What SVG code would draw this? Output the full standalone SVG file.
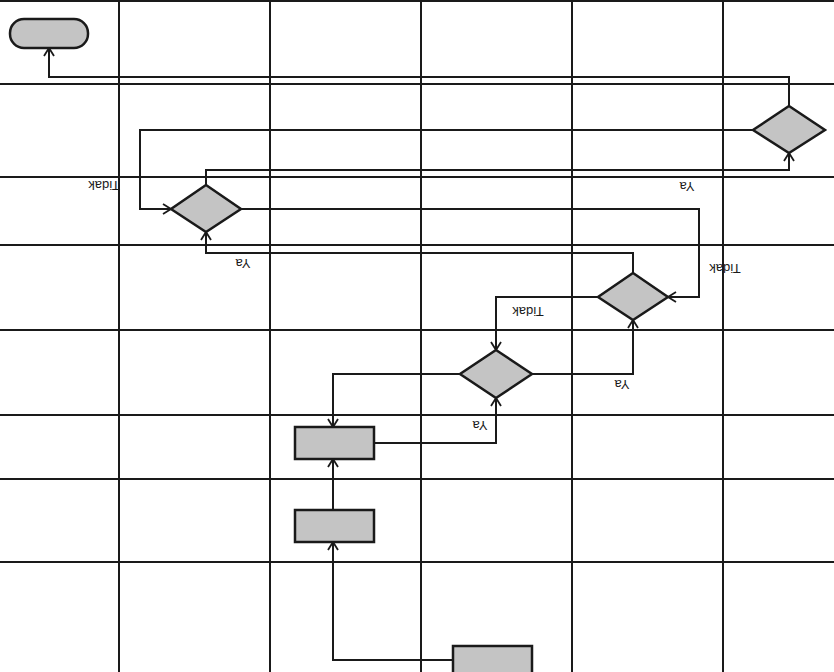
<svg xmlns="http://www.w3.org/2000/svg" width="834" height="672" viewBox="0 0 834 672">
<style>
.grid{stroke:#1a1a1a;stroke-width:2;fill:none}
.shape{fill:#c4c4c4;stroke:#1a1a1a;stroke-width:2.5}
.conn{fill:none;stroke:#1a1a1a;stroke-width:2;marker-end:url(#arr)}
.lbl{font-family:"Liberation Sans",Arial,sans-serif;font-size:13px;fill:#1a1a1a;text-anchor:middle;dominant-baseline:central}
</style>
<defs>
<marker id="arr" markerUnits="userSpaceOnUse" markerWidth="12" markerHeight="12" refX="10" refY="6" orient="auto">
<path d="M2,1 L10,6 L2,11" fill="none" stroke="#1a1a1a" stroke-width="1.8"/>
</marker>
</defs>
<rect width="834" height="672" fill="#fff"/>
<g id="grid" class="grid">
<line x1="0" y1="1" x2="834" y2="1"/>
<line x1="0" y1="84" x2="834" y2="84"/>
<line x1="0" y1="177" x2="834" y2="177"/>
<line x1="0" y1="245" x2="834" y2="245"/>
<line x1="0" y1="330" x2="834" y2="330"/>
<line x1="0" y1="415" x2="834" y2="415"/>
<line x1="0" y1="479" x2="834" y2="479"/>
<line x1="0" y1="562" x2="834" y2="562"/>
<line x1="119" y1="0" x2="119" y2="672"/>
<line x1="270" y1="0" x2="270" y2="672"/>
<line x1="421" y1="0" x2="421" y2="672"/>
<line x1="572" y1="0" x2="572" y2="672"/>
<line x1="723" y1="0" x2="723" y2="672"/>
</g>
<g id="connectors">
<path class="conn" d="M453,660 H333 V542"/>
<path class="conn" d="M333,510 V459"/>
<path class="conn" d="M374,443 H496 V398"/>
<path class="conn" d="M460,374 H333 V427"/>
<path class="conn" d="M532,374 H633 V320"/>
<path class="conn" d="M598,297 H496 V350"/>
<path class="conn" d="M633,273 V253 H206 V232"/>
<path class="conn" d="M241,209 H699 V297 H668"/>
<path class="conn" d="M753,130 H140 V209 H171"/>
<path class="conn" d="M206,185 V170 H789 V153"/>
<path class="conn" d="M789,106 V77 H49 V48"/>
</g>
<g id="end"><rect class="shape" x="10" y="19" width="78" height="29" rx="14"/></g>
<g id="d1"><polygon class="shape" points="789,106 825,130 789,153 753,130"/></g>
<g id="d2"><polygon class="shape" points="206,185 241,209 206,232 171,209"/></g>
<g id="d3"><polygon class="shape" points="633,273 668,297 633,320 598,297"/></g>
<g id="d4"><polygon class="shape" points="496,350 532,374 496,398 460,374"/></g>
<g id="r1"><rect class="shape" x="295" y="427" width="79" height="32"/></g>
<g id="r2"><rect class="shape" x="295" y="510" width="79" height="32"/></g>
<g id="r3"><rect class="shape" x="453" y="646" width="79" height="34"/></g>
<g id="labels">
<text class="lbl" x="480" y="425" transform="rotate(180 480 425)">Ya</text>
<text class="lbl" x="622" y="384" transform="rotate(180 622 384)">Ya</text>
<text class="lbl" x="528" y="311" transform="rotate(180 528 311)">Tidak</text>
<text class="lbl" x="243" y="263" transform="rotate(180 243 263)">Ya</text>
<text class="lbl" x="725" y="268" transform="rotate(180 725 268)">Tidak</text>
<text class="lbl" x="104" y="185" transform="rotate(180 104 185)">Tidak</text>
<text class="lbl" x="687" y="186" transform="rotate(180 687 186)">Ya</text>
</g>
</svg>
